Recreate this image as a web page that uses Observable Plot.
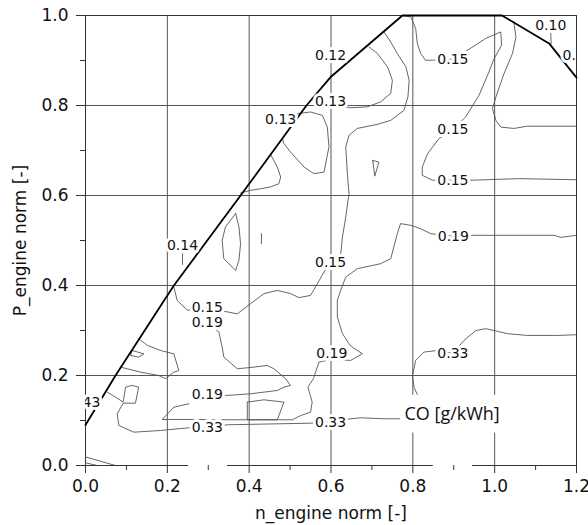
<!DOCTYPE html>
<html>
<head>
<meta charset="utf-8">
<script src="https://cdn.jsdelivr.net/npm/d3@7"></script>
<script src="https://cdn.jsdelivr.net/npm/@observablehq/plot@0.6"></script>
<style>
  html, body { margin: 0; padding: 0; background: white; }
</style>
</head>
<body>
<div id="chart"></div>
<script>
// ---- axis ticks ----
const xTicks = [0, 0.2, 0.4, 0.6, 0.8, 1.0, 1.2];
const yTicks = [0, 0.2, 0.4, 0.6, 0.8, 1.0];
const xMinor = [0.1, 0.3, 0.5, 0.7, 0.9, 1.1];
const yMinor = [0.1, 0.3, 0.5, 0.7, 0.9];
const xGrid = [0.2, 0.4, 0.6, 0.8, 1.0];
const yGrid = [0.2, 0.4, 0.6, 0.8];

// ---- engine operating envelope (thick line) ----
const envelope = [[0,0.09],[0.0734,0.2],[0.2,0.378],[0.216,0.4],[0.379,0.6],[0.54,0.8],[0.6,0.864],[0.7745,1.0],[1.018,1.0],[1.134,0.937],[1.2,0.862]];

// ---- CO contour lines [g/kWh] ----
const c013a = [[0.693,0.930],[0.713,0.916],[0.738,0.886],[0.750,0.856],[0.746,0.827],[0.721,0.808],[0.689,0.797],[0.648,0.795],[0.611,0.801]];
const c015a = [[0.7295,0.9635],[0.746,0.941],[0.762,0.9155],[0.783,0.886],[0.791,0.856],[0.788,0.819],[0.778,0.789],[0.746,0.767],[0.713,0.758],[0.664,0.749],[0.644,0.734],[0.636,0.708],[0.640,0.649],[0.644,0.604],[0.636,0.552],[0.628,0.508],[0.624,0.471],[0.599,0.451],[0.583,0.430],[0.562,0.3965],[0.550,0.378],[0.522,0.373],[0.501,0.382],[0.469,0.389],[0.436,0.382],[0.4035,0.3596],[0.371,0.337],[0.2976,0.350],[0.249,0.345],[0.224,0.367],[0.216,0.3965]];
const c015b = [[0.7745,1.0],[0.795,0.997],[0.807,0.971],[0.811,0.938],[0.819,0.9155],[0.831,0.9006],[0.848,0.9006],[0.898,0.903],[0.946,0.930],[0.978,0.949],[1.015,0.9635],[1.017,0.934],[0.9985,0.904],[0.986,0.8746],[0.962,0.823],[0.929,0.7745],[0.898,0.747],[0.864,0.7265],[0.836,0.693],[0.823,0.663],[0.823,0.645],[0.848,0.634],[0.898,0.634],[0.946,0.634],[1.060,0.6375],[1.2,0.635]];
const c015c = [[1.047,0.985],[1.052,0.952],[1.0435,0.9155],[1.023,0.871],[1.003,0.819],[0.9946,0.793],[1.003,0.767],[1.015,0.752],[1.047,0.749],[1.080,0.754],[1.2,0.754]];
const c010 = [[1.137,0.9635],[1.138,0.937]];
const c013b = [[0.512,0.775],[0.518,0.782],[0.550,0.7856],[0.579,0.778],[0.591,0.752],[0.595,0.708],[0.583,0.652],[0.558,0.6487],[0.534,0.6633],[0.501,0.6967],[0.485,0.7154],[0.481,0.7265]];
const c013c = [[0.452,0.6916],[0.469,0.663],[0.477,0.641],[0.4727,0.6264],[0.452,0.619],[0.428,0.615],[0.4035,0.6115],[0.379,0.6055]];
const c014a = [[0.367,0.560],[0.375,0.530],[0.379,0.493],[0.375,0.456],[0.367,0.4336],[0.338,0.4596],[0.334,0.500],[0.342,0.530],[0.367,0.560]];
const c014b = [[0.430,0.515],[0.430,0.493]];
const c014c = [[0.237,0.470],[0.237,0.447]];
const c015d = [[0.702,0.678],[0.717,0.674],[0.707,0.643],[0.702,0.678]];
const c019a = [[0.130,0.2817],[0.151,0.267],[0.183,0.2557],[0.216,0.248],[0.228,0.211],[0.216,0.2075],[0.1956,0.193],[0.179,0.200],[0.1345,0.2075],[0.0856,0.2186]];
const c019b = [[0.114,0.2557],[0.1426,0.248],[0.130,0.2408],[0.110,0.2446],[0.114,0.2557]];
const c019c = [[0.2976,0.318],[0.326,0.2964],[0.334,0.263],[0.338,0.241],[0.371,0.215],[0.4116,0.2186],[0.444,0.2224],[0.4605,0.215],[0.489,0.193],[0.501,0.178],[0.485,0.174],[0.469,0.1668],[0.4035,0.1594],[0.3465,0.1557],[0.298,0.158]];
const c019d = [[0.2526,0.1372],[0.216,0.1296],[0.1876,0.1023],[0.2568,0.1023],[0.3465,0.1016],[0.3955,0.1016],[0.4688,0.1016],[0.5054,0.1016],[0.526,0.111],[0.550,0.1185],[0.554,0.1408],[0.5436,0.174],[0.557,0.193],[0.5705,0.2297],[0.602,0.236],[0.648,0.2335],[0.6767,0.2484],[0.652,0.263],[0.644,0.2706],[0.628,0.293],[0.6155,0.330],[0.6155,0.367],[0.6236,0.389],[0.636,0.4187],[0.6645,0.4374],[0.7214,0.4485],[0.746,0.4596],[0.762,0.515],[0.770,0.5375],[0.795,0.5337],[0.819,0.5263],[0.844,0.515],[0.899,0.5097],[0.9496,0.5115],[1.145,0.5115],[1.1617,0.507],[1.2,0.5115]];
const c019e = [[0.3955,0.1408],[0.4361,0.146],[0.485,0.1408],[0.4688,0.1016],[0.3955,0.1016],[0.3955,0.1408]];
const c033a = [[0.053,0.163],[0.0734,0.152],[0.092,0.141],[0.098,0.174],[0.114,0.178],[0.130,0.174],[0.122,0.1385],[0.092,0.1385],[0.0775,0.115],[0.0814,0.089],[0.118,0.074],[0.1834,0.0778],[0.252,0.0838],[0.298,0.0834],[0.3465,0.0905],[0.550,0.094],[0.599,0.0963],[0.648,0.1038],[0.6725,0.106],[0.7295,0.1038],[0.770,0.1038]];
const c033b = [[0.815,0.149],[0.803,0.174],[0.799,0.200],[0.807,0.2335],[0.827,0.252],[0.860,0.2557],[0.898,0.249],[0.925,0.278],[0.954,0.300],[0.978,0.304],[0.9985,0.300],[1.031,0.293],[1.080,0.289],[1.1536,0.289],[1.2,0.2906]];
const c043a = [[0,0.019],[0.035,0.01],[0.073,0]];
const c043b = [[0,0.006],[0.0286,0]];

const contourNames = ["c013a","c015a","c015b","c015c","c010","c013b","c013c","c014a","c014b","c014c","c015d","c019a","c019b","c019c","c019d","c019e","c033a","c033b","c043a","c043b"];
const contourPts = [c013a,c015a,c015b,c015c,c010,c013b,c013c,c014a,c014b,c014c,c015d,c019a,c019b,c019c,c019d,c019e,c033a,c033b,c043a,c043b];

// ---- contour labels ----
const labelText = ["0.12","0.13","0.13","0.14","0.15","0.15","0.15","0.10","0.11","0.15","0.15","0.19","0.19","0.19","0.33","0.19","0.33","0.33","43"];
const labelX = [0.599,0.599,0.477,0.237,0.898,0.898,0.898,1.137,1.204,0.599,0.2976,0.2976,0.899,0.602,0.898,0.298,0.298,0.599,0.0145];
const labelY = [0.910,0.8095,0.769,0.488,0.903,0.747,0.634,0.9786,0.912,0.4514,0.3503,0.318,0.5097,0.249,0.249,0.158,0.0834,0.0963,0.139];

// ---- legend / masked boxes ----
const legendText = ["CO [g/kWh]"];
const legendPos = [0.896, 0.1134];
const legendBox = [0.77, 1.04, 0.072, 0.156];
const hiddenBoxesX1 = [0.252, 0.85];
const hiddenBoxesX2 = [0.347, 0.946];
const hiddenBoxY = [-0.004, 0.01];

// ---- build tables ----
const lineRows = contourNames.flatMap((id, i) => contourPts[i].map(([x, y]) => ({id, x, y})));
const envRows = envelope.map(([x, y]) => ({x, y}));
const labels = labelText.map((t, i) => ({t, x: labelX[i], y: labelY[i]}));
const masks = hiddenBoxesX1.map((x1, i) => ({x1, x2: hiddenBoxesX2[i], y1: hiddenBoxY[0], y2: hiddenBoxY[1]}));
const legendRect = [{x1: legendBox[0], x2: legendBox[1], y1: legendBox[2], y2: legendBox[3]}];
const legendRow = [{t: legendText[0], x: legendPos[0], y: legendPos[1]}];
const fmt = d3.format(".1f");

const chart = Plot.plot({
  width: 588,
  height: 525,
  marginLeft: 85,
  marginRight: 12,
  marginTop: 15,
  marginBottom: 60,
  style: {fontFamily: "DejaVu Sans", background: "white", color: "#111"},
  x: {domain: [0, 1.2]},
  y: {domain: [0, 1]},
  marks: [
    Plot.gridX(xGrid, {stroke: "#555", strokeOpacity: 1, strokeWidth: 1}),
    Plot.gridY(yGrid, {stroke: "#555", strokeOpacity: 1, strokeWidth: 1}),
    Plot.frame({stroke: "#333", strokeWidth: 1}),
    Plot.line(lineRows, {x: "x", y: "y", z: "id", stroke: "#555", strokeWidth: 0.9, clip: true}),
    Plot.line(envRows, {x: "x", y: "y", stroke: "#000", strokeWidth: 1.8}),
    Plot.rect(masks, {x1: "x1", x2: "x2", y1: "y1", y2: "y2", fill: "white"}),
    Plot.text(labels, {x: "x", y: "y", text: "t", fontSize: 14, fill: "#111", stroke: "white", strokeWidth: 6, clip: true}),
    Plot.rect(legendRect, {x1: "x1", x2: "x2", y1: "y1", y2: "y2", fill: "white"}),
    Plot.text(legendRow, {x: "x", y: "y", text: "t", fontSize: 18, fontFamily: "Open Sans", fill: "#111"}),
    Plot.axisX(xTicks, {tickSize: 8, tickPadding: 6, fontSize: 17, tickFormat: fmt, label: null, stroke: "#333"}),
    Plot.axisX(xMinor, {tickSize: 5, tickFormat: () => "", label: null, stroke: "#333"}),
    Plot.axisY(yTicks, {tickSize: 9, tickPadding: 8, fontSize: 17, tickFormat: fmt, label: null, stroke: "#333"}),
    Plot.axisY(yMinor, {tickSize: 5, tickFormat: () => "", label: null, stroke: "#333"}),
    Plot.text(["n_engine norm [-]"], {frameAnchor: "bottom", dy: 48, fontSize: 17, textAnchor: "middle", lineAnchor: "middle", fill: "#111"}),
    Plot.text(["P_engine norm [-]"], {frameAnchor: "left", dx: -65, rotate: -90, fontSize: 17, textAnchor: "middle", lineAnchor: "middle", fill: "#111"})
  ]
});
document.getElementById("chart").appendChild(chart);
</script>
</body>
</html>
